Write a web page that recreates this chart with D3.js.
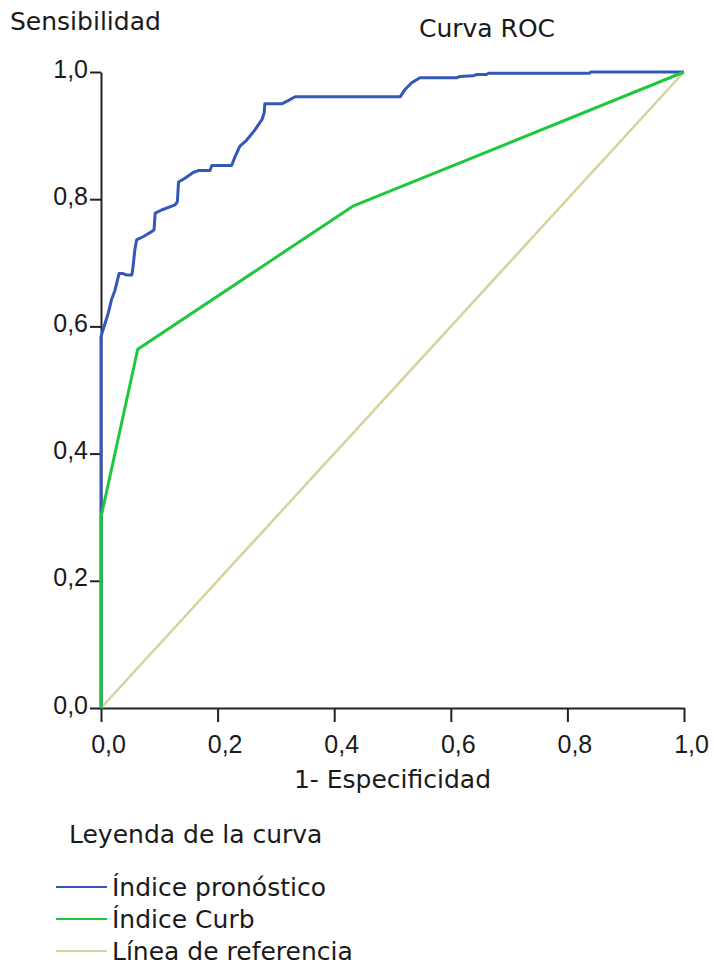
<!DOCTYPE html>
<html>
<head>
<meta charset="utf-8">
<script src="https://cdn.jsdelivr.net/npm/d3@7"></script>
<style>
  body { margin: 0; background: #fff; }
  svg { display: block; font-family: "DejaVu Sans", Verdana, sans-serif; }
  .axis path, .axis line { stroke: #222; stroke-width: 2; }
  .axis text { font-size: 25px; fill: #1a1a1a; }
  .label { font-size: 25px; fill: #1a1a1a; }
</style>
</head>
<body>
<div id="chart"></div>
<script>
// ROC data (1 - specificity, sensitivity)
var pronosticoFpr = [0, 0, 0.007, 0.0125, 0.018, 0.024, 0.031, 0.038, 0.043, 0.053, 0.055, 0.058, 0.061, 0.072, 0.087, 0.091, 0.093, 0.104, 0.127, 0.131, 0.133, 0.144, 0.158, 0.167, 0.187, 0.19, 0.224, 0.23, 0.238, 0.25, 0.264, 0.276, 0.28, 0.281, 0.31, 0.321, 0.333, 0.513, 0.521, 0.533, 0.547, 0.61, 0.616, 0.638, 0.644, 0.661, 0.665, 0.838, 0.84, 1];
var pronosticoTpr = [0, 0.584, 0.605, 0.621, 0.642, 0.657, 0.683, 0.683, 0.681, 0.681, 0.694, 0.72, 0.736, 0.741, 0.749, 0.752, 0.778, 0.783, 0.791, 0.796, 0.827, 0.833, 0.842, 0.845, 0.845, 0.853, 0.853, 0.867, 0.883, 0.893, 0.909, 0.925, 0.936, 0.95, 0.95, 0.955, 0.961, 0.961, 0.972, 0.983, 0.991, 0.991, 0.993, 0.994, 0.996, 0.996, 0.998, 0.998, 1, 1];

var curbFpr = [0, 0, 0.063, 0.432, 1];
var curbTpr = [0, 0.30, 0.564, 0.789, 1];

var refFpr = [0, 1];
var refTpr = [0, 1];

var xTicks = [0, 0.2, 0.4, 0.6, 0.8, 1];
var yTicks = [0, 0.2, 0.4, 0.6, 0.8, 1];

var seriesNames = ["Índice pronóstico", "Índice Curb", "Línea de referencia"];
var seriesColors = ["#3358b8", "#1ec83c", "#d6d29c"];

// Dimensions
var width = 714;
var height = 965;
var margin = { top: 72, right: 30, bottom: 257, left: 101 };

var svg = d3.select("#chart").append("svg")
  .attr("width", width)
  .attr("height", height);

var xScale = d3.scaleLinear().domain([0, 1]).range([margin.left, width - margin.right]);
var yScale = d3.scaleLinear().domain([0, 1]).range([height - margin.bottom, margin.top]);

var fmt = function(d) { return d3.format(".1f")(d).replace(".", ","); };

// Axes
var xAxis = d3.axisBottom(xScale).tickValues(xTicks).tickFormat(fmt)
  .tickSize(14).tickSizeOuter(0).tickPadding(13);
var yAxis = d3.axisLeft(yScale).tickValues(yTicks).tickFormat(fmt)
  .tickSize(11).tickSizeOuter(0).tickPadding(2);

svg.append("g").attr("class", "axis x")
  .attr("transform", "translate(0," + yScale(0) + ")")
  .call(xAxis)
  .selectAll("text").attr("dx", "7");

svg.append("g").attr("class", "axis y")
  .attr("transform", "translate(" + xScale(0) + ",0)")
  .call(yAxis)
  .selectAll("text").attr("dy", "0.2em");

// Curves
var line = d3.line()
  .x(function(d) { return xScale(d[0]); })
  .y(function(d) { return yScale(d[1]); });

var curves = [
  { fpr: refFpr, tpr: refTpr, color: seriesColors[2], w: 2.5 },
  { fpr: pronosticoFpr, tpr: pronosticoTpr, color: seriesColors[0], w: 3 },
  { fpr: curbFpr, tpr: curbTpr, color: seriesColors[1], w: 3 }
];

svg.append("g").selectAll("path")
  .data(curves)
  .enter().append("path")
  .attr("fill", "none")
  .attr("stroke", function(d) { return d.color; })
  .attr("stroke-width", function(d) { return d.w; })
  .attr("stroke-linejoin", "round")
  .attr("d", function(d) { return line(d3.zip(d.fpr, d.tpr)); });

// Titles
svg.append("text").attr("class", "label")
  .attr("x", 10).attr("y", 30)
  .text("Sensibilidad");

svg.append("text").attr("class", "label")
  .attr("x", 487).attr("y", 37)
  .attr("text-anchor", "middle")
  .text("Curva ROC");

svg.append("text").attr("class", "label")
  .attr("x", (xScale(0) + xScale(1)) / 2).attr("y", 788)
  .attr("text-anchor", "middle")
  .text("1- Especificidad");

// Legend
svg.append("text").attr("class", "label")
  .attr("x", 69).attr("y", 843)
  .text("Leyenda de la curva");

var legendY = [887, 919, 951];
var legend = svg.append("g").selectAll("g")
  .data(seriesNames)
  .enter().append("g")
  .attr("transform", function(d, i) { return "translate(0," + legendY[i] + ")"; });

legend.append("line")
  .attr("x1", 56).attr("x2", 107)
  .attr("stroke", function(d, i) { return seriesColors[i]; })
  .attr("stroke-width", 2);

legend.append("text").attr("class", "label")
  .attr("x", 112).attr("y", 9)
  .text(function(d) { return d; });
</script>
</body>
</html>
